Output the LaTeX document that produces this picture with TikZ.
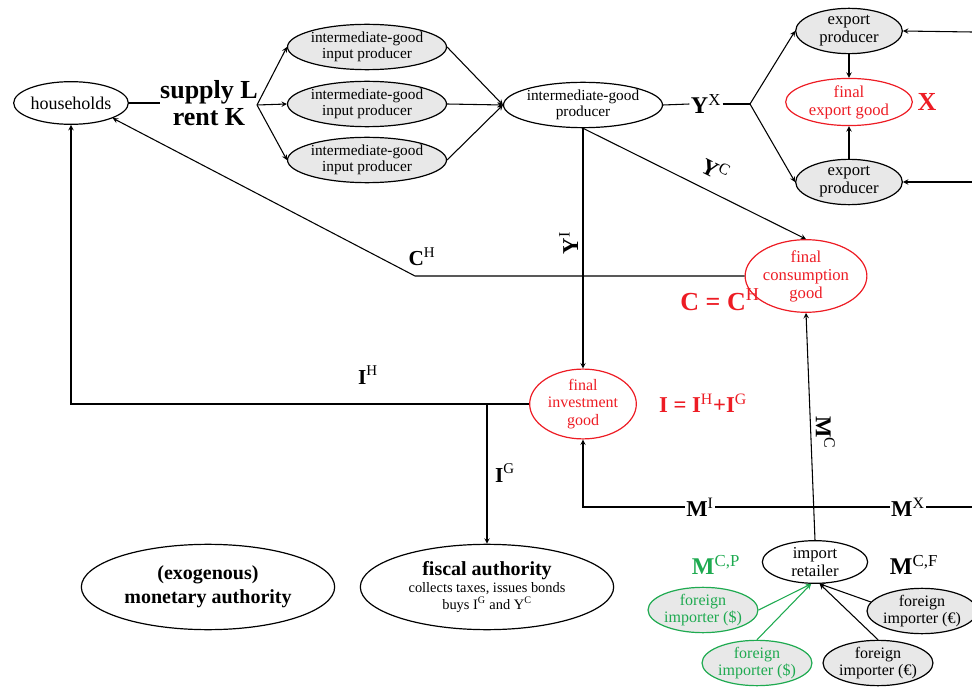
\documentclass[tikz,border=0pt]{standalone}
\usepackage{fontspec}
\setmainfont{Liberation Serif}
\usetikzlibrary{arrows, positioning, shapes.geometric}
\definecolor{finalred}{RGB}{237,28,36}
\definecolor{impgreen}{RGB}{30,170,80}
\newcommand{\supx}[1]{\textsuperscript{\mdseries #1}}

\begin{document}
\begin{tikzpicture}[x=0.75pt, y=-0.75pt]
	\tikzstyle{Node} = [ellipse, draw=black, line width=0.9pt, inner sep=0pt, align=center, font=\fontsize{12.5}{13.5}\selectfont]
	\tikzstyle{Input} = [Node, fill=gray!18, minimum width=112pt, minimum height=34pt, font=\fontsize{11.5}{12}\selectfont]
	\tikzstyle{Export} = [Node, fill=gray!18, minimum width=80pt, minimum height=34pt]
	\tikzstyle{Final} = [Node, draw=finalred, text=finalred]
	\tikzstyle{Foreign} = [Node, fill=gray!18, minimum width=79pt, minimum height=34pt, font=\fontsize{12}{13}\selectfont]
	\tikzstyle{Authority} = [Node, minimum width=190pt, minimum height=64pt]
	\tikzstyle{Label} = [inner sep=1pt, font=\fontsize{16}{17}\selectfont\bfseries]
	\tikzstyle{Big} = [inner sep=1pt, align=center, font=\fontsize{19.5}{20}\selectfont\bfseries]
	\tikzstyle{arrow} = [line width=0.8pt,->,>=stealth]
	\tikzstyle{line} = [line width=0.8pt]

	\useasboundingbox (0,0) rectangle (972,688);

	% households and production
	\node (hh) [Node, minimum width=86pt, minimum height=32pt, font=\fontsize{13.5}{14}\selectfont] at (71,103) {households};
	\node (supply) [Big, inner sep=0pt] at (209,103) {supply L\\rent K};
	\node (in1) [Input] at (367,47) {intermediate-good\\input producer};
	\node (in2) [Input] at (367,104) {intermediate-good\\input producer};
	\node (in3) [Input] at (367,160) {intermediate-good\\input producer};
	\node (ig) [Node, minimum width=112pt, minimum height=34pt, font=\fontsize{11.5}{12}\selectfont] at (583,105) {intermediate-good\\producer};
	\node (yx) [Big, font=\fontsize{18}{19}\selectfont\bfseries] at (706,104) {Y\supx{X}};
	\node (ex1) [Export] at (849,31) {export\\producer};
	\node (xg) [Final, minimum width=95pt, minimum height=34pt] at (849,102) {final\\export good};
	\node (ex2) [Export] at (849,182) {export\\producer};
	\node (xlab) [Big, text=finalred] at (927,102) {X};

	% final goods
	\node (fc) [Final, minimum width=90pt, minimum height=47pt] at (806,276) {final\\consumption\\good};
	\node (clab) [Big, text=finalred] at (720,300) {C = C\supx{H}};
	\node (fi) [Final, minimum width=80pt, minimum height=50pt, font=\fontsize{12}{13}\selectfont] at (583,404) {final\\investment\\good};
	\node (ilab) [Label, text=finalred, font=\fontsize{17}{18}\selectfont\bfseries] at (703,403) {I = I\supx{H}+I\supx{G}};

	% authorities
	\node (ma) [Authority, font=\fontsize{15}{18}\selectfont\bfseries] at (208,587) {(exogenous)\\monetary authority};
	\node (fa) [Authority, font=\fontsize{10.8}{12.5}\selectfont] at (487,587) {{\fontsize{15}{18}\selectfont\bfseries fiscal authority}\\collects taxes, issues bonds\\buys I\textsuperscript{G} and Y\textsuperscript{C}};

	% imports
	\node (ir) [Node, minimum width=79pt, minimum height=32pt] at (815,562) {import\\retailer};
	\node (fp1) [Foreign, draw=impgreen, text=impgreen] at (703,610) {foreign\\importer (\$)};
	\node (fp2) [Foreign, draw=impgreen, text=impgreen] at (757,663) {foreign\\importer (\$)};
	\node (fb1) [Foreign] at (922,611) {foreign\\importer (€)};
	\node (fb2) [Foreign] at (878,663) {foreign\\importer (€)};
	\node (mcp) [Label, text=impgreen, font=\fontsize{18}{19}\selectfont\bfseries] at (716,565) {M\supx{C,P}};
	\node (mcf) [Label, font=\fontsize{18}{19}\selectfont\bfseries] at (914,565) {M\supx{C,F}};

	% flow labels
	\node (chlab) [Label] at (422,257) {C\supx{H}};
	\node (ihlab) [Label] at (368,375) {I\supx{H}};
	\node (iglab) [Label] at (505,473) {I\supx{G}};
	\node (mi) [Label, font=\fontsize{17}{18}\selectfont\bfseries] at (700,507) {M\supx{I}};
	\node (mx) [Label, font=\fontsize{17}{18}\selectfont\bfseries] at (908,507) {M\supx{X}};

	\coordinate (br1) at (257,105);
	\coordinate (br2) at (750,104);
	\coordinate (r1) at (972,32);
	\coordinate (r2) at (972,182);
	\coordinate (cbend) at (415,276);
	\coordinate (ihbend) at (71,404);
	\coordinate (igbend) at (487,404);
	\coordinate (mr) at (972,507);
	\coordinate (mbend) at (583,507);

	\draw [line] (hh) -- (supply);
	\draw [arrow] (br1) -- (in1.west);
	\draw [arrow] (br1) -- (in2.west);
	\draw [arrow] (br1) -- (in3.west);
	\draw [arrow] (in1.east) -- (ig.west);
	\draw [arrow] (in2.east) -- (ig.west);
	\draw [arrow] (in3.east) -- (ig.west);
	\draw [line] (ig.east) -- (yx.west);
	\draw [line] (yx.east) -- (br2);
	\draw [arrow] (br2) -- (ex1.west);
	\draw [arrow] (br2) -- (ex2.west);
	\draw [arrow] (ex1) -- (xg);
	\draw [arrow] (ex2) -- (xg);
	\draw [arrow] (r1) -- (ex1.east);
	\draw [arrow] (r2) -- (ex2.east);

	\draw [arrow] (ig.south) -- node [pos=0.55, sloped, above=6pt, font=\fontsize{17}{18}\selectfont\bfseries] (yclab) {Y\supx{C}} (fc.north);
	\draw [arrow] (ig.south) -- node [pos=0.5, rotate=90, above=4pt, font=\fontsize{17}{18}\selectfont\bfseries] (yilab) {Y\supx{I}} (fi.north);
	\draw [arrow] (fc.west) -- (cbend) -- (hh.-20);
	\draw [arrow] (fi.west) -- (ihbend) -- (hh.south);
	\draw [arrow] (igbend) -- (fa.north);
	\draw [line] (mr) -- (mx.east);
	\draw [line] (mx.west) -- (mi.east);
	\draw [arrow] (mi.west) -- (mbend) -- (fi.south);
	\draw [arrow] (ir.north) -- node [pos=0.45, rotate=-90, above=4pt, font=\fontsize{17}{18}\selectfont\bfseries] (mclab) {M\supx{C}} (fc.south);

	\draw [arrow, impgreen] (fp1.east) -- (ir.-100);
	\draw [arrow, impgreen] (fp2.north) -- (ir.-100);
	\draw [arrow] (fb1.170) -- (ir.-78);
	\draw [arrow] (fb2.north) -- (ir.-78);
\end{tikzpicture}
\end{document}
